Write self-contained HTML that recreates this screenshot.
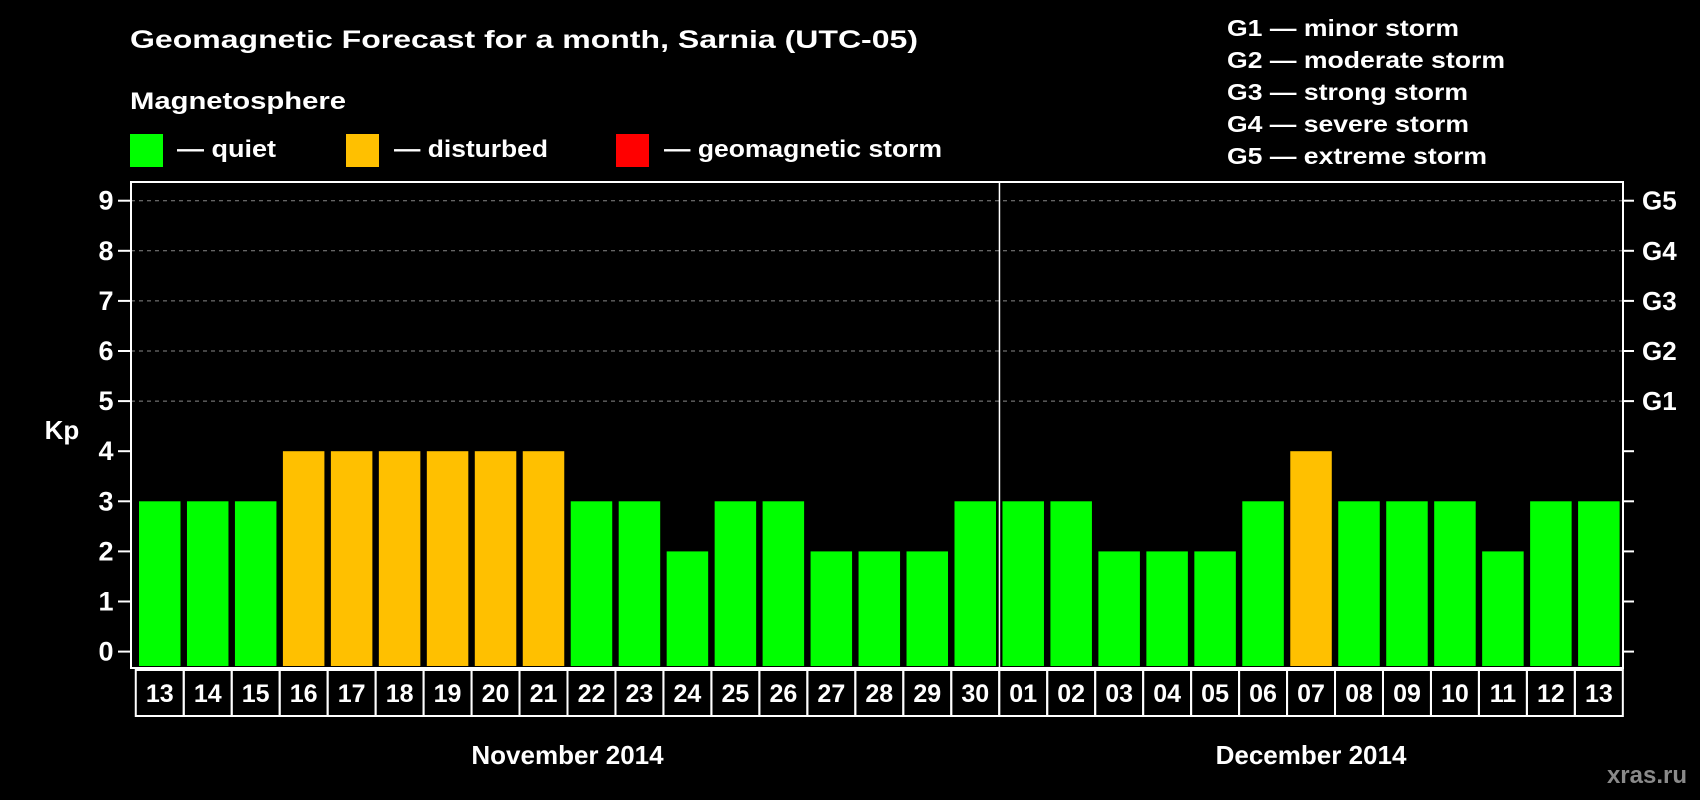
<!DOCTYPE html>
<html><head><meta charset="utf-8"><style>
html,body{margin:0;padding:0;background:#000;}
svg{display:block;font-family:"Liberation Sans",Arial,sans-serif;font-weight:bold;}
</style></head><body>
<svg id="chart" width="1700" height="800" viewBox="0 0 1700 800">
<rect width="1700" height="800" fill="#000"/>
<text x="130" y="48" fill="#fff" font-size="25" textLength="788" lengthAdjust="spacingAndGlyphs">Geomagnetic Forecast for a month, Sarnia (UTC-05)</text>
<text x="130" y="109" fill="#fff" font-size="24" textLength="216" lengthAdjust="spacingAndGlyphs">Magnetosphere</text>
<rect x="130" y="134" width="33" height="33" fill="#00ff00"/>
<text x="177" y="157" fill="#fff" font-size="24" textLength="99" lengthAdjust="spacingAndGlyphs">— quiet</text>
<rect x="346" y="134" width="33" height="33" fill="#ffc000"/>
<text x="394" y="157" fill="#fff" font-size="24" textLength="154" lengthAdjust="spacingAndGlyphs">— disturbed</text>
<rect x="616" y="134" width="33" height="33" fill="#ff0000"/>
<text x="664" y="157" fill="#fff" font-size="24" textLength="278" lengthAdjust="spacingAndGlyphs">— geomagnetic storm</text>
<g fill="#fff" font-size="23">
<text x="1227" y="36" textLength="232" lengthAdjust="spacingAndGlyphs">G1 — minor storm</text>
<text x="1227" y="68" textLength="278" lengthAdjust="spacingAndGlyphs">G2 — moderate storm</text>
<text x="1227" y="100" textLength="241" lengthAdjust="spacingAndGlyphs">G3 — strong storm</text>
<text x="1227" y="132" textLength="242" lengthAdjust="spacingAndGlyphs">G4 — severe storm</text>
<text x="1227" y="164" textLength="260" lengthAdjust="spacingAndGlyphs">G5 — extreme storm</text>
</g>
<text x="62" y="439" fill="#fff" font-size="26" text-anchor="middle">Kp</text>
<text x="1687" y="783" fill="#8a8a8a" font-size="24" text-anchor="end">xras.ru</text>
<g id="grid"></g><g id="bars"></g><g id="axes"></g>
</svg>
<script>
const days = ["13","14","15","16","17","18","19","20","21","22","23","24","25","26","27","28","29","30","01","02","03","04","05","06","07","08","09","10","11","12","13"];
const kpValues = [3,3,3,4,4,4,4,4,4,3,3,2,3,3,2,2,2,3,3,3,2,2,2,3,4,3,3,3,2,3,3];
const yTicks = [0,1,2,3,4,5,6,7,8,9];
const gLabels = ["G1","G2","G3","G4","G5"];
const gLevels = [5,6,7,8,9];
const months = ["November 2014","December 2014"];
const monthDayCounts = [18,13];

const NS="http://www.w3.org/2000/svg";
const L=131,R=1623,T=182,B=668,Y0=651.6,UNIT=50.1;
const X0=139,STEP=47.97,BW=41.5;
const y=v=>Y0-v*UNIT;
const x=i=>X0+i*STEP;
function mk(tag,attrs,parent){const e=document.createElementNS(NS,tag);for(const k in attrs)e.setAttribute(k,attrs[k]);parent.appendChild(e);return e;}
const grid=document.getElementById('grid'),bars=document.getElementById('bars'),axes=document.getElementById('axes');
gLevels.forEach(v=>{
  const l=mk('line',{x1:L,x2:R,y1:y(v),y2:y(v),stroke:'#888','stroke-width':1,'stroke-dasharray':'4,4'},grid);
  
  
});
kpValues.forEach((v,i)=>{
  const c=v>=5?'#ff0000':(v>=4?'#ffc000':'#00ff00');
  const r=mk('rect',{x:x(i),y:y(v),width:BW,height:B-2-y(v),fill:c},bars);
  
  
});
const fr=mk('rect',{x:L,y:T,width:R-L,height:B-T,fill:'none',stroke:'#fff','stroke-width':2},axes);


const divX=x(monthDayCounts[0])-3;
const dv=mk('line',{x1:divX,x2:divX,y1:T,y2:B,stroke:'#fff','stroke-width':1.5},axes);


yTicks.forEach(v=>{
  mk('line',{x1:L-13,x2:L,y1:y(v),y2:y(v),stroke:'#fff','stroke-width':2},axes);
  mk('line',{x1:R,x2:R+11,y1:y(v),y2:y(v),stroke:'#fff','stroke-width':2},axes);
  const t=mk('text',{x:106,y:y(v)+9,fill:'#fff','font-size':27,'text-anchor':'middle'},axes);
  t.textContent=v;
  
  
});
gLabels.forEach((g,i)=>{
  const t=mk('text',{x:1642,y:y(gLevels[i])+9,fill:'#fff','font-size':26},axes);
  t.textContent=g;
  
  
});
days.forEach((d,i)=>{
  const cx=x(i)+BW/2;
  const r=mk('rect',{x:cx-STEP/2,y:670,width:STEP,height:46,fill:'none',stroke:'#fff','stroke-width':2},axes);
  
  
  const t=mk('text',{x:cx,y:702,fill:'#fff','font-size':25,'text-anchor':'middle'},axes);
  t.textContent=d;
  
  
});
let start=0;
months.forEach((m,i)=>{
  const n=monthDayCounts[i];
  const cx=(x(start)+x(start+n-1)+BW)/2;
  const t=mk('text',{x:cx,y:764,fill:'#fff','font-size':26,'text-anchor':'middle'},axes);
  t.textContent=m;
  
  
  start+=n;
});
</script>
</body></html>
